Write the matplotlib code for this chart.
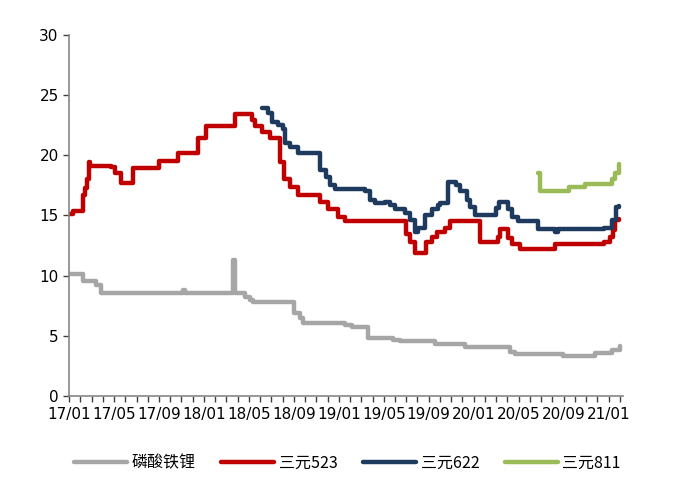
import matplotlib.pyplot as plt
import numpy as np

# month offsets from 2017-01 and prices (10k yuan / ton)
lfp_m = [0.0, 1.24, 2.4, 2.84, 10.1, 10.3, 14.55, 14.8, 15.64, 16.09, 16.36, 20.0, 20.53,
         20.8, 24.53, 25.16, 26.58, 28.8, 29.42, 32.53, 35.2, 39.2, 39.64, 43.91, 46.76,
         48.27, 48.98]
lfp_v = [10.1, 9.6, 9.2, 8.6, 8.8, 8.6, 11.3, 8.6, 8.2, 8.0, 7.8, 6.9, 6.5,
         6.1, 5.9, 5.7, 4.8, 4.7, 4.6, 4.3, 4.1, 3.7, 3.5, 3.3, 3.6,
         3.8, 4.2]

ncm523_m = [0.0, 0.36, 1.24, 1.42, 1.6, 1.78, 1.87, 3.73, 4.09, 4.62, 5.69, 8.0, 9.69,
            11.47, 12.18, 14.76, 16.27, 16.53, 17.16, 17.87, 18.76, 19.11, 19.64, 20.36,
            22.31, 23.02, 23.91, 24.53, 29.96, 30.31, 30.76, 31.73, 32.27, 32.71, 33.42,
            33.87, 36.53, 38.13, 38.31, 39.02, 39.38, 40.09, 43.2, 47.64, 48.09, 48.36,
            48.62, 48.89]
ncm523_v = [15.1, 15.4, 16.7, 17.3, 18.0, 19.4, 19.1, 19.0, 18.5, 17.7, 18.9, 19.5, 20.2,
            21.4, 22.4, 23.4, 22.9, 22.4, 21.9, 21.4, 19.4, 18.0, 17.4, 16.7,
            16.1, 15.5, 14.9, 14.5, 13.5, 12.8, 11.9, 12.8, 13.2, 13.6, 14.0,
            14.5, 12.8, 13.2, 13.9, 13.1, 12.6, 12.2, 12.6, 12.8, 13.2, 13.8,
            14.6, 14.7]

ncm622_m = [17.16, 17.69, 18.04, 18.58, 19.02, 19.2, 19.64, 20.36, 22.31, 22.84, 23.2,
            23.64, 26.31, 26.76, 27.2, 28.09, 28.53, 28.98, 29.87, 30.31, 30.76, 31.02,
            31.64, 32.27, 32.8, 32.98, 33.69, 34.4, 34.76, 35.38, 35.64, 36.09, 37.96,
            38.22, 39.02, 39.38, 39.91, 41.69, 43.2, 43.47, 47.64, 48.27, 48.71, 48.89]
ncm622_v = [23.9, 23.5, 22.8, 22.5, 22.2, 21.0, 20.7, 20.2, 18.8, 18.2, 17.5,
            17.2, 17.0, 16.3, 16.0, 16.1, 15.9, 15.5, 15.2, 14.6, 13.6, 14.0,
            15.0, 15.5, 15.9, 16.0, 17.8, 17.5, 17.0, 16.3, 15.7, 15.0, 15.6,
            16.1, 15.5, 14.9, 14.5, 13.9, 13.6, 13.9, 14.0, 14.6, 15.7, 15.8]

ncm811_m = [41.69, 41.87, 44.44, 45.87, 48.27, 48.62, 48.89]
ncm811_v = [18.5, 17.0, 17.4, 17.6, 18.0, 18.5, 19.3]

tick_labels = ["17/01", "17/05", "17/09", "18/01", "18/05", "18/09", "19/01",
               "19/05", "19/09", "20/01", "20/05", "20/09", "21/01"]

series = [
    ("磷酸铁锂", lfp_m, lfp_v, "#A6A6A6"),
    ("三元523", ncm523_m, ncm523_v, "#C00000"),
    ("三元622", ncm622_m, ncm622_v, "#1F3A5F"),
    ("三元811", ncm811_m, ncm811_v, "#9BBB59"),
]

fig = plt.figure(figsize=(6.84, 5.04), dpi=100)
ax = fig.add_axes([0.101, 0.214, 0.81, 0.717])

for name, m, v, col in series:
    ax.plot(m, v, drawstyle="steps-post", color=col, lw=3.2, label=name,
            solid_joinstyle="round", solid_capstyle="round")

ax.set_xlim(0, 49.3)
ax.set_ylim(0, 30)
ax.set_yticks(np.arange(0, 31, 5))
ax.set_xticks(np.arange(0, 49, 4))
ax.set_xticklabels(tick_labels)
ax.set_xticks(np.arange(0, 50, 1), minor=True)

for s in ["top", "right"]:
    ax.spines[s].set_visible(False)
for s in ["left", "bottom"]:
    ax.spines[s].set_color("#868686")
    ax.spines[s].set_linewidth(1.2)

ax.tick_params(axis="both", which="both", direction="out", color="#404040",
               labelsize=11, length=4, width=1)
ax.tick_params(axis="x", pad=4)

leg = fig.legend(loc="center", bbox_to_anchor=(0.508, 0.081), ncol=4, frameon=False,
                 handlelength=3.3, handletextpad=0.3, columnspacing=1.6,
                 prop={"family": ["Noto Sans CJK SC", "DejaVu Sans"], "size": 11.5})

fig.savefig("out.png", dpi=100)
